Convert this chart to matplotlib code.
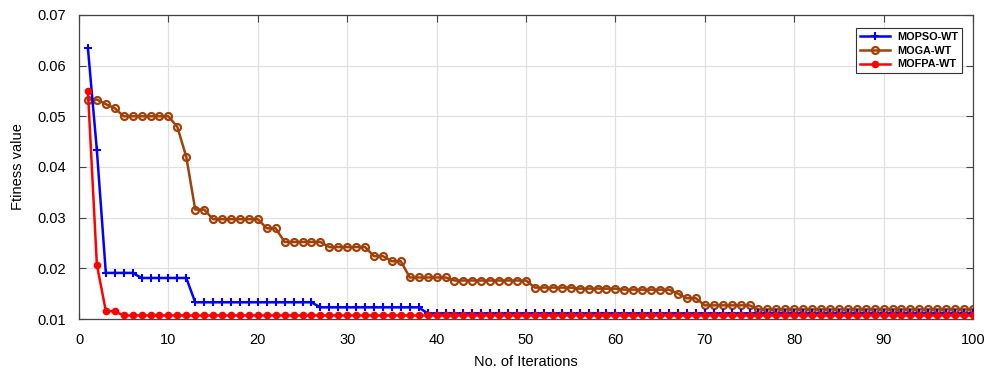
import numpy as np
import matplotlib
matplotlib.use("Agg")
import matplotlib.pyplot as plt

# ------------------------------------------------------------
# Data
# ------------------------------------------------------------
iterations = np.arange(1, 101)

mopso_wt = ([0.0634, 0.0433] + [0.0191] * 4 + [0.0181] * 6 + [0.0133] * 14
            + [0.0123] * 12 + [0.0111] * 62)

moga_wt = ([0.0533, 0.0533, 0.0524, 0.0516] + [0.0500] * 6 + [0.0479, 0.0420]
           + [0.0316] * 2 + [0.0297] * 6 + [0.0279] * 2 + [0.0252] * 5
           + [0.0242] * 5 + [0.0224] * 2 + [0.0214] * 2 + [0.0182] * 5
           + [0.0176] * 9 + [0.0162] * 5 + [0.0160] * 5 + [0.0158] * 6
           + [0.0150, 0.0141, 0.0141] + [0.0127] * 6 + [0.0119] * 25)

mofpa_wt = [0.0549, 0.0207, 0.0116, 0.0115] + [0.0107] * 96

series_names = ["MOPSO-WT", "MOGA-WT", "MOFPA-WT"]

# ------------------------------------------------------------
# Plot
# ------------------------------------------------------------
plt.rcParams["font.family"] = ["Liberation Sans", "DejaVu Sans"]

fig = plt.figure(figsize=(10, 3.74), dpi=100)
ax = fig.add_axes([0.079, 0.147, 0.894, 0.813])

ax.plot(iterations, mopso_wt, color="#0000ff", marker="+", markersize=6,
        markeredgewidth=1.5, linewidth=1.8, label=series_names[0], zorder=3)
ax.plot(iterations, moga_wt, color="#a0410a", marker="o", markersize=5,
        markerfacecolor="none", markeredgewidth=1.6, linewidth=1.8,
        label=series_names[1], zorder=2)
ax.plot(iterations, mofpa_wt, color="#ff0000", marker="o", markersize=4.5,
        linewidth=1.8, label=series_names[2], zorder=4)

ax.set_xlim(0, 100)
ax.set_ylim(0.01, 0.07)
ax.set_xticks(np.arange(0, 101, 10))
ax.set_yticks(np.arange(0.01, 0.071, 0.01))
ax.set_yticklabels([f"{v:.2f}" for v in np.arange(0.01, 0.071, 0.01)])

ax.grid(True, color="#e0e0e0", linewidth=0.9)
ax.set_axisbelow(True)
ax.tick_params(direction="in", top=True, right=True, labelsize=10.5,
               length=5, color="#444444")
ax.tick_params(axis="x", pad=10)
ax.tick_params(axis="y", pad=9)
for s in ax.spines.values():
    s.set_color("#444444")
    s.set_linewidth(0.9)

ax.set_xlabel("No. of Iterations", fontsize=10.5, labelpad=6)
ax.set_ylabel("Ftiness value", fontsize=10.5, labelpad=9)

leg = ax.legend(loc="upper right", bbox_to_anchor=(0.9935, 0.975),
                prop={"weight": "bold", "size": 7.8}, fancybox=False,
                framealpha=1, edgecolor="#333333", handlelength=2.8,
                borderpad=0.35, labelspacing=0.35, handletextpad=0.6)
leg.get_frame().set_linewidth(0.8)

fig.savefig("out.png", dpi=100)
